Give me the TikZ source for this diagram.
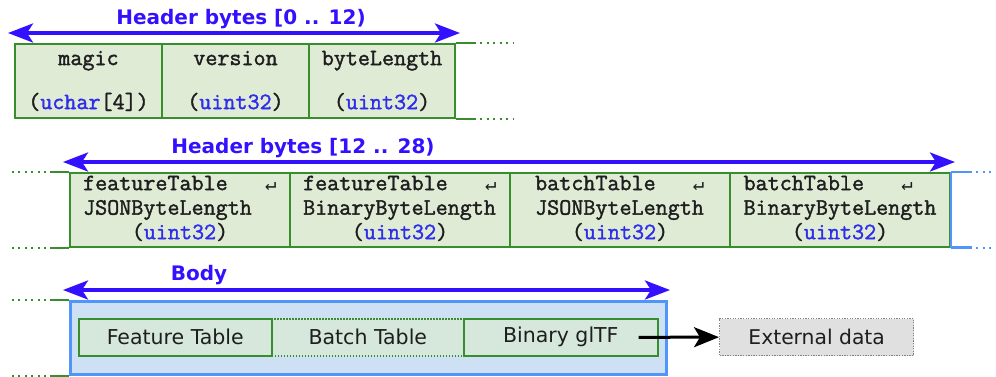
\documentclass[tikz,border=0pt]{standalone}
\usepackage{fontspec}
\setmainfont{DejaVu Sans}
\newfontfamily\monofont{Latin Modern Mono}[FakeBold=1.6]
\newfontfamily\retfont{DejaVu Sans Mono}
\usetikzlibrary{arrows.meta}

\definecolor{lblblue}{RGB}{51,17,255}
\definecolor{typeblue}{RGB}{45,45,235}
\definecolor{cellgreen}{RGB}{56,142,44}
\definecolor{cellfill}{RGB}{224,235,214}
\definecolor{bodyblue}{RGB}{80,150,250}
\definecolor{bodyfill}{RGB}{205,224,244}
\definecolor{tblfill}{RGB}{213,232,219}
\definecolor{extfill}{RGB}{224,224,224}
\definecolor{extline}{RGB}{130,130,130}
\definecolor{txtgray}{RGB}{30,30,30}

% type names in blue, line-continuation mark after a field name
\newcommand{\ty}[1]{{\color{typeblue}#1}}
\newcommand{\contmark}{\hspace{1.575em}\makebox[0.525em]{\retfont\fontsize{19}{20}\selectfont\symbol{"21B5}}}
% three-line field label: two left-aligned lines, centred type
\newcommand{\fieldtext}[2]{\begin{tabular}{@{}l@{}}#1\contmark\\#2\\\multicolumn{1}{@{}c@{}}{(\ty{uint32})}\end{tabular}}

\tikzset{
  hcell/.style={draw=cellgreen, fill=cellfill, line width=2pt, inner sep=0pt,
    anchor=north west, align=center, text=txtgray,
    font=\monofont\fontsize{23.4}{22}\selectfont},
  fcell/.style={hcell, minimum width=220pt, minimum height=73pt,
    font=\monofont\fontsize{23.4}{24.5}\selectfont},
  tblbox/.style={draw=cellgreen, fill=tblfill, line width=1.6pt, inner sep=0pt,
    anchor=north west, minimum height=37pt, text=txtgray,
    font=\fontsize{20.5}{22}\selectfont},
  dimarrow/.style={draw=lblblue, line width=3.5pt,
    {Stealth[length=25pt,width=19pt,inset=6pt]}-{Stealth[length=25pt,width=19pt,inset=6pt]}},
  dimlabel/.style={text=lblblue, font=\bfseries\fontsize{20}{22}\selectfont},
  gline/.style={draw=cellgreen, line width=2pt},
  gdots/.style={draw=cellgreen, line width=2pt, dash pattern=on 2pt off 4.5pt},
  bline/.style={draw=bodyblue, line width=2.5pt},
  bdots/.style={draw=bodyblue, line width=2pt, dash pattern=on 2pt off 4.5pt},
}

\begin{document}
\begin{tikzpicture}[x=1pt, y=-1pt]
\useasboundingbox (0,0) rectangle (996,376);

% ---------- header bytes [0 .. 12)
\node[hcell, minimum width=147pt, minimum height=74pt] (magic) at (14,43)
  {magic\\[22pt](\ty{uchar}[4])};
\node[hcell, minimum width=147pt, minimum height=74pt] (version) at (161,43)
  {version\\[22pt](\ty{uint32})};
\node[hcell, minimum width=146pt, minimum height=74pt] (bytelen) at (308,43)
  {byteLength\\[22pt](\ty{uint32})};

\coordinate (h1l) at (8,33);
\coordinate (h1r) at (460,33);
\draw[dimarrow] (h1l) -- (h1r);
\node[dimlabel] (h1lbl) at (241,19) {Header bytes [0 .. 12)};

\draw[gline] (bytelen.north east) -- ++(20,0) coordinate (r1t);
\draw[gdots] ([xshift=4pt]r1t) -- ++(34,0);
\draw[gline] (bytelen.south east) -- ++(20,0) coordinate (r1b);
\draw[gdots] ([xshift=4pt]r1b) -- ++(34,0);

% ---------- header bytes [12 .. 28)
\node[fcell] (ftjson) at (69,172) {\fieldtext{featureTable}{JSONByteLength}};
\node[fcell] (ftbin) at (289,172) {\fieldtext{featureTable}{BinaryByteLength}};
\node[fcell] (btjson) at (509,172) {\fieldtext{batchTable}{JSONByteLength}};
\node[fcell] (btbin) at (729,172) {\fieldtext{batchTable}{BinaryByteLength}};

\coordinate (h2l) at (63,162);
\coordinate (h2r) at (955,162);
\draw[dimarrow] (h2l) -- (h2r);
\node[dimlabel] (h2lbl) at (303,148) {Header bytes [12 .. 28)};

\draw[gline] (ftjson.north west) -- ++(-19,0) coordinate (r2tl);
\draw[gdots] ([xshift=-4pt]r2tl) -- ++(-36,0);
\draw[gline] (ftjson.south west) -- ++(-19,0) coordinate (r2bl);
\draw[gdots] ([xshift=-4pt]r2bl) -- ++(-36,0);

\draw[bline] (btbin.north east) -- (btbin.south east);
\draw[bline] (btbin.north east) -- ++(21,0) coordinate (r2tr);
\draw[bdots] ([xshift=4pt]r2tr) -- ++(24,0);
\draw[bline] (btbin.south east) -- ++(21,0) coordinate (r2br);
\draw[bdots] ([xshift=4pt]r2br) -- ++(24,0);

% ---------- body
\node[draw=bodyblue, fill=bodyfill, line width=2.5pt, anchor=north west,
  minimum width=596pt, minimum height=73pt, inner sep=0pt] (body) at (69,300) {};

\node[tblbox, minimum width=192pt, dash pattern=on 1.5pt off 1.5pt] (batch) at (271,318) {Batch Table};
\node[tblbox, minimum width=193pt] (feature) at (78,318) {Feature Table};
\node[tblbox, minimum width=194pt] (glb) at (463,318) {Binary glTF};

\node[draw=extline, fill=extfill, line width=1.3pt, dash pattern=on 1.3pt off 1.3pt,
  anchor=north west, minimum width=194pt, minimum height=37pt, inner sep=0pt,
  text=txtgray, font=\fontsize{20.3}{22}\selectfont] (ext) at (719,318) {External data};

\draw[line width=3pt, -{Stealth[length=25pt,width=20pt,inset=6pt]}]
  ([xshift=-20pt]glb.east) -- (ext.west);

\coordinate (bl) at (63,290);
\coordinate (br) at (670,290);
\draw[dimarrow] (bl) -- (br);
\node[dimlabel] (bodylbl) at (199,275) {Body};

\draw[gline] (body.north west) -- ++(-19,0) coordinate (r3tl);
\draw[gdots] ([xshift=-4pt]r3tl) -- ++(-36,0);
\draw[gline] (body.south west) -- ++(-19,0) coordinate (r3bl);
\draw[gdots] ([xshift=-4pt]r3bl) -- ++(-36,0);
\end{tikzpicture}
\end{document}
